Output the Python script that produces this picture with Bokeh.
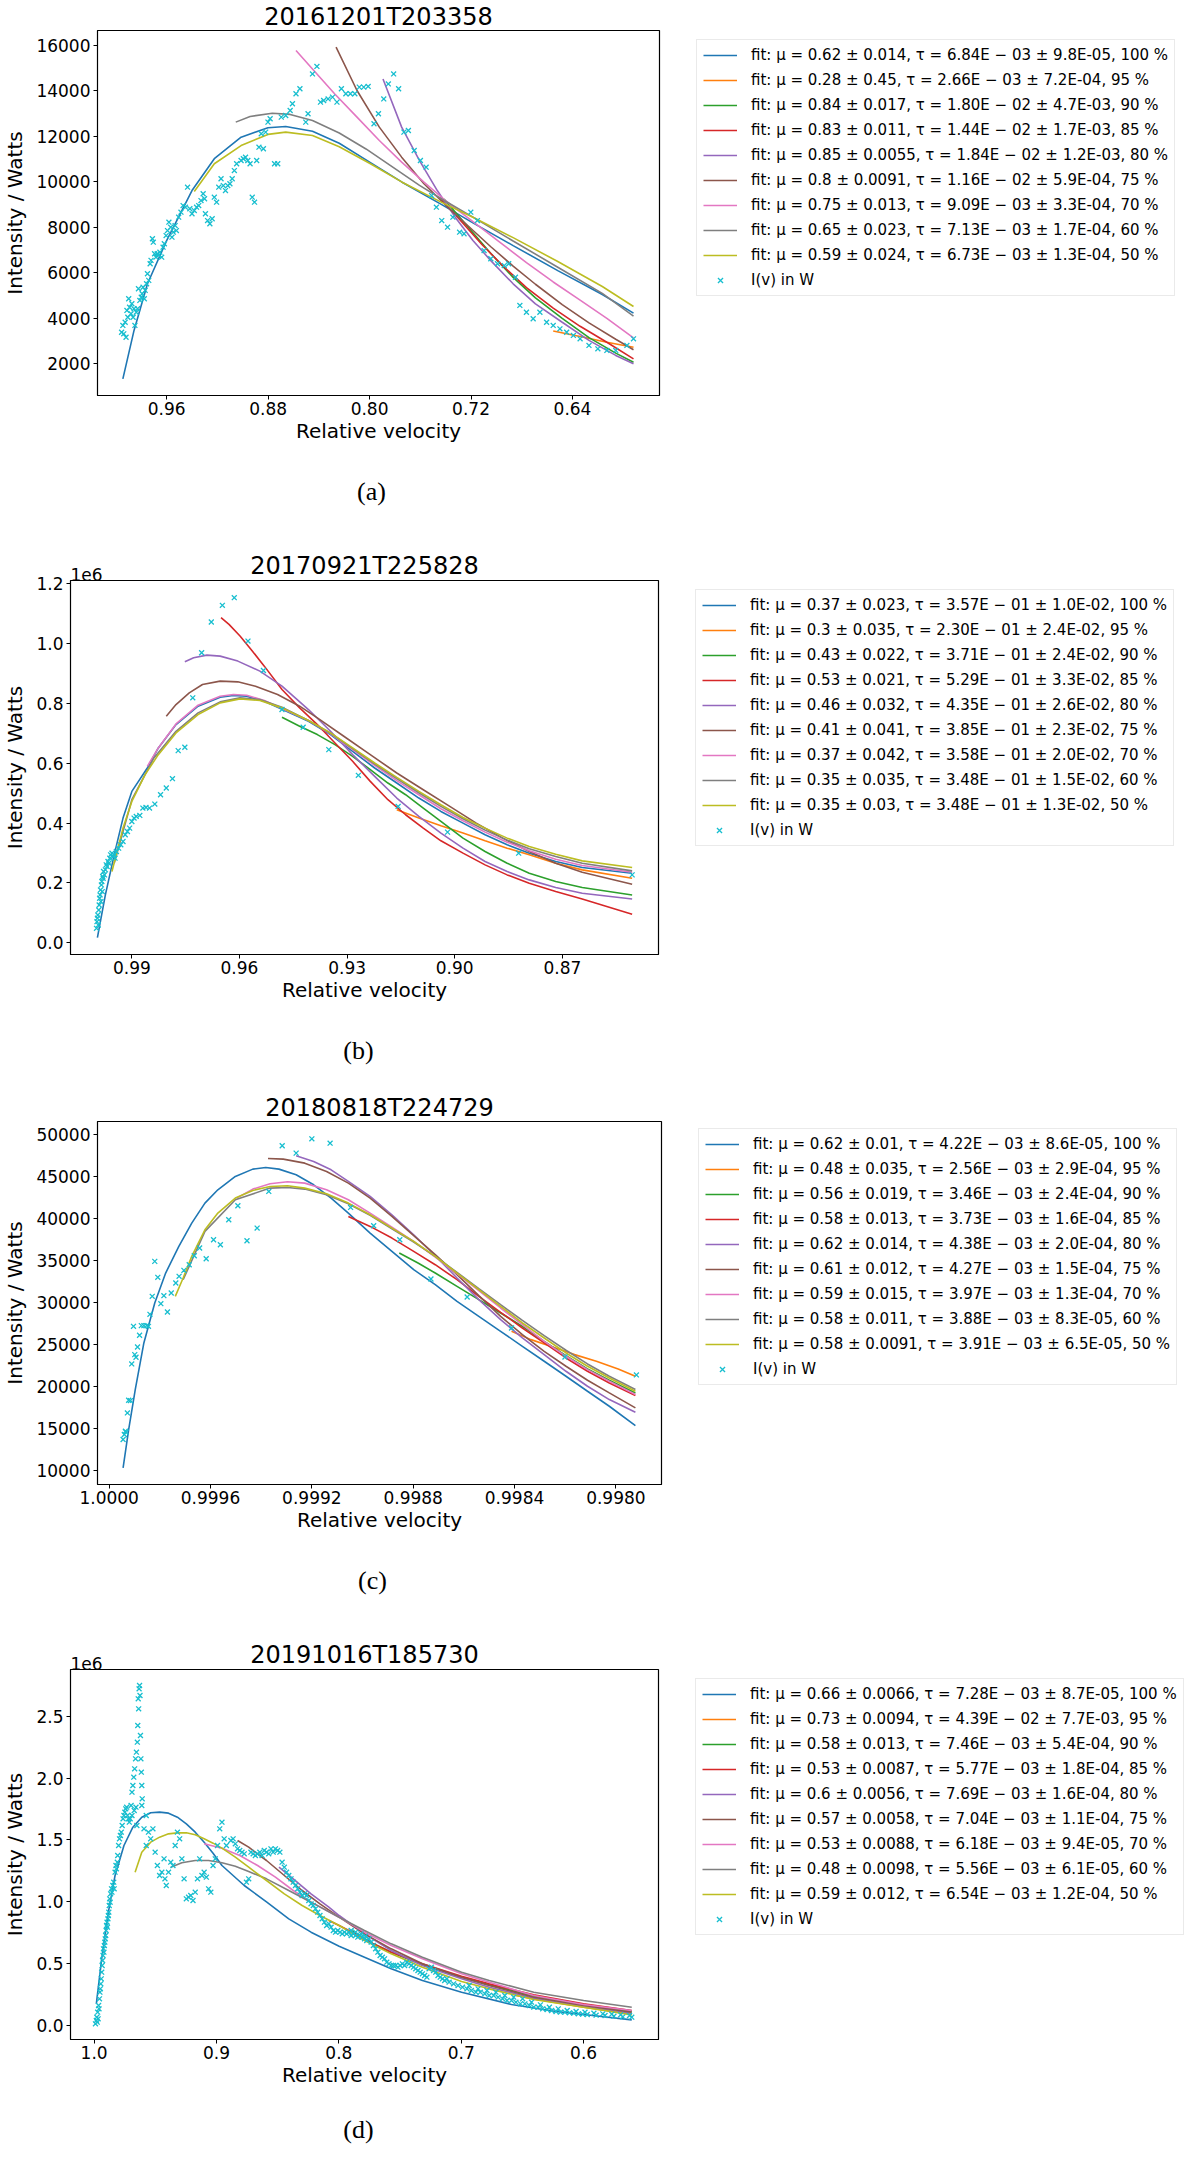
from bokeh.plotting import figure
from bokeh.models import (Range1d, FixedTicker, PrintfTickFormatter, Legend,
                          LegendItem, Label)
from bokeh.layouts import column, row
from bokeh.embed import file_html
from bokeh.resources import INLINE

# ---------------------------------------------------------------- data
FIT_COLORS = ["#1f77b4", "#ff7f0e", "#2ca02c", "#d62728", "#9467bd",
              "#8c564b", "#e377c2", "#7f7f7f", "#bcbd22"]
OBS_COLOR = "#17becf"

# panel (a) : 20161201T203358, intensity in W
a_title = "20161201T203358"
a_labels = [
    "fit: μ = 0.62 ± 0.014, τ = 6.84E − 03 ± 9.8E-05, 100 %",
    "fit: μ = 0.28 ± 0.45, τ = 2.66E − 03 ± 7.2E-04, 95 %",
    "fit: μ = 0.84 ± 0.017, τ = 1.80E − 02 ± 4.7E-03, 90 %",
    "fit: μ = 0.83 ± 0.011, τ = 1.44E − 02 ± 1.7E-03, 85 %",
    "fit: μ = 0.85 ± 0.0055, τ = 1.84E − 02 ± 1.2E-03, 80 %",
    "fit: μ = 0.8 ± 0.0091, τ = 1.16E − 02 ± 5.9E-04, 75 %",
    "fit: μ = 0.75 ± 0.013, τ = 9.09E − 03 ± 3.3E-04, 70 %",
    "fit: μ = 0.65 ± 0.023, τ = 7.13E − 03 ± 1.7E-04, 60 %",
    "fit: μ = 0.59 ± 0.024, τ = 6.73E − 03 ± 1.3E-04, 50 %",
]
a_fit100 = [(0.9945, 1340), (0.9857, 3470), (0.9751, 5520), (0.96, 7420), (0.94, 9620),
            (0.9224, 11020), (0.9013, 11970), (0.8801, 12380), (0.8661, 12440), (0.845, 12230),
            (0.8239, 11700), (0.7993, 10850), (0.7747, 10000), (0.7431, 9000), (0.7185, 8200),
            (0.6868, 7200), (0.6516, 6100), (0.6165, 5050), (0.5919, 4230)]
a_fit95 = [(0.6552, 3440), (0.634, 3200), (0.6129, 2950), (0.5919, 2730)]
a_fit90 = [(0.7413, 9250), (0.722, 8000), (0.7044, 6850), (0.6868, 5800), (0.6692, 4900),
           (0.6481, 4000), (0.627, 3150), (0.6059, 2470), (0.5919, 2070)]
a_fit85 = [(0.7448, 9300), (0.729, 8350), (0.7114, 7250), (0.6938, 6250), (0.6763, 5350),
           (0.6552, 4450), (0.634, 3650), (0.6129, 2950), (0.5919, 2220)]
a_fit80 = [(0.7894, 14530), (0.7747, 12410), (0.7606, 10940), (0.7466, 9620), (0.7325, 8450),
           (0.7185, 7420), (0.7044, 6540), (0.6868, 5520), (0.6692, 4640), (0.6481, 3830),
           (0.627, 3030), (0.6059, 2370), (0.5919, 2000)]
a_fit75 = [(0.8264, 15930), (0.8099, 14020), (0.7923, 12410), (0.7747, 11090), (0.7571, 9920),
           (0.7395, 8950), (0.722, 8050), (0.7044, 7150), (0.6868, 6300), (0.6692, 5500),
           (0.6481, 4600), (0.627, 3800), (0.6059, 3080), (0.5919, 2620)]
a_fit70 = [(0.858, 15780), (0.845, 14970), (0.8274, 13870), (0.8099, 12850), (0.7923, 11820),
           (0.7747, 10870), (0.7571, 9990), (0.7395, 9150), (0.7185, 8250), (0.6974, 7350),
           (0.6763, 6450), (0.6552, 5600), (0.634, 4800), (0.6129, 4000), (0.5919, 3140)]
a_fit60 = [(0.9055, 12630), (0.8942, 12880), (0.8767, 13020), (0.8626, 12970), (0.845, 12700),
           (0.8239, 12150), (0.8028, 11450), (0.7817, 10650), (0.7606, 9850), (0.7431, 9250),
           (0.7185, 8450), (0.6868, 7400), (0.6516, 6250), (0.6165, 5100), (0.5919, 4100)]
a_fit50 = [(0.9382, 9580), (0.9224, 10800), (0.9013, 11600), (0.8801, 12090), (0.8661, 12190),
           (0.845, 12040), (0.8239, 11550), (0.7993, 10800), (0.7747, 10000), (0.7431, 9100),
           (0.7185, 8450), (0.6868, 7550), (0.6516, 6500), (0.6165, 5400), (0.5919, 4520)]
a_obs = [
    (0.9955, 3390), (0.9945, 3690), (0.9938, 3320), (0.9927, 3830), (0.9920, 3170), (0.9913, 4350),
    (0.9906, 4050), (0.9899, 4860), (0.9892, 4490), (0.9881, 4200), (0.9874, 4640), (0.9864, 4050),
    (0.9857, 4420), (0.9850, 3690), (0.9839, 4270), (0.9829, 4420), (0.9822, 5300), (0.9811, 4790),
    (0.9800, 4930), (0.9793, 5080), (0.9786, 5370), (0.9776, 4860), (0.9769, 5230), (0.9758, 5520),
    (0.9751, 5960), (0.9741, 5670), (0.9730, 6400), (0.9723, 6550), (0.9712, 7500), (0.9705, 7350),
    (0.9695, 6840), (0.9684, 6690), (0.9674, 6840), (0.9663, 6770), (0.9653, 6910), (0.9639, 6690),
    (0.9628, 7130), (0.9618, 7280), (0.9604, 7640), (0.9593, 7860), (0.9582, 8230), (0.9568, 8010),
    (0.9558, 7570), (0.9547, 7790), (0.9533, 8080), (0.9523, 7860), (0.9505, 8450), (0.9487, 8670),
    (0.9470, 8960), (0.9452, 8890), (0.9435, 9770), (0.9417, 8820), (0.9400, 8600), (0.9382, 8740),
    (0.9364, 8890), (0.9347, 8960), (0.9329, 9180), (0.9312, 9480), (0.9301, 9260), (0.9294, 8600),
    (0.9277, 8300), (0.9259, 8160), (0.9241, 8380), (0.9224, 9330), (0.9206, 9110), (0.9189, 9770),
    (0.9171, 10140), (0.9153, 9840), (0.9136, 9620), (0.9118, 9840), (0.9101, 9920), (0.9083, 10140),
    (0.9066, 10500), (0.9048, 10800), (0.9013, 10940), (0.8995, 11020), (0.8978, 11090), (0.8960, 10940),
    (0.8942, 10800), (0.8925, 9330), (0.8907, 9110), (0.8890, 10940), (0.8872, 11530), (0.8854, 12120),
    (0.8837, 11460), (0.8819, 12190), (0.8801, 12630), (0.8784, 12780), (0.8749, 10800), (0.8724, 10800),
    (0.8696, 12850), (0.8661, 12920), (0.8626, 13140), (0.8608, 13440), (0.8580, 13880), (0.8549, 14100),
    (0.8503, 12630), (0.8485, 13000), (0.8450, 14750), (0.8415, 15080), (0.8387, 13510), (0.8362, 13580),
    (0.8327, 13650), (0.8292, 13730), (0.8257, 13510), (0.8222, 14100), (0.8187, 13880), (0.8151, 13880),
    (0.8116, 13880), (0.8081, 14170), (0.8046, 14170), (0.8011, 14200), (0.7965, 12560), (0.7930, 13000),
    (0.7888, 13650), (0.7852, 14310), (0.7810, 14750), (0.7771, 14100), (0.7729, 12190), (0.7694, 12260),
    (0.7648, 11380), (0.7599, 10940), (0.7554, 10650), (0.7511, 9400), (0.7473, 8890), (0.7431, 8300),
    (0.7385, 8010), (0.7343, 8450), (0.7290, 7790), (0.7255, 7720), (0.7202, 8670), (0.7150, 8300),
    (0.7097, 6980), (0.7044, 6620), (0.6991, 6400), (0.6938, 6320), (0.6903, 6400), (0.6850, 5810),
    (0.6815, 4570), (0.6763, 4270), (0.6710, 3980), (0.6657, 4270), (0.6604, 3830), (0.6552, 3690),
    (0.6499, 3540), (0.6446, 3390), (0.6393, 3250), (0.6340, 3100), (0.6270, 2810), (0.6200, 2660),
    (0.6129, 2590), (0.6059, 2590), (0.5971, 2810), (0.5919, 3100),
]
a_xticks = [0.96, 0.88, 0.80, 0.72, 0.64]
a_yticks = [2000, 4000, 6000, 8000, 10000, 12000, 14000, 16000]

# panel (b) : 20170921T225828, intensity in 1e6 W
b_title = "20170921T225828"
b_labels = [
    "fit: μ = 0.37 ± 0.023, τ = 3.57E − 01 ± 1.0E-02, 100 %",
    "fit: μ = 0.3 ± 0.035, τ = 2.30E − 01 ± 2.4E-02, 95 %",
    "fit: μ = 0.43 ± 0.022, τ = 3.71E − 01 ± 2.4E-02, 90 %",
    "fit: μ = 0.53 ± 0.021, τ = 5.29E − 01 ± 3.3E-02, 85 %",
    "fit: μ = 0.46 ± 0.032, τ = 4.35E − 01 ± 2.6E-02, 80 %",
    "fit: μ = 0.41 ± 0.041, τ = 3.85E − 01 ± 2.3E-02, 75 %",
    "fit: μ = 0.37 ± 0.042, τ = 3.58E − 01 ± 2.0E-02, 70 %",
    "fit: μ = 0.35 ± 0.035, τ = 3.48E − 01 ± 1.5E-02, 60 %",
    "fit: μ = 0.35 ± 0.03, τ = 3.48E − 01 ± 1.3E-02, 50 %",
]
b_fit100 = [(0.9996, 0.0167), (0.99738, 0.1596), (0.99492, 0.2936), (0.99246, 0.4164), (0.99, 0.5057),
            (0.98569, 0.5838), (0.98262, 0.6508), (0.97769, 0.729), (0.97154, 0.7904), (0.96538, 0.8205),
            (0.96169, 0.8261), (0.958, 0.8239), (0.95308, 0.8071), (0.94692, 0.7736), (0.94077, 0.7401),
            (0.93462, 0.6955), (0.92846, 0.6396), (0.92231, 0.5838), (0.91615, 0.5336), (0.91, 0.4834),
            (0.90385, 0.4387), (0.89769, 0.3996), (0.89154, 0.3606), (0.88538, 0.3271), (0.87923, 0.2992),
            (0.87185, 0.2713), (0.86446, 0.2512), (0.85055, 0.2322)]
b_fit95 = [(0.91615, 0.4443), (0.91, 0.4164), (0.90385, 0.3907), (0.89769, 0.3662), (0.89154, 0.3405),
           (0.88538, 0.3159), (0.87923, 0.2936), (0.87185, 0.2657), (0.86446, 0.2434), (0.85055, 0.2155)]
b_fit90 = [(0.94815, 0.7535), (0.94323, 0.7234), (0.9383, 0.6955), (0.93338, 0.662), (0.92846, 0.6229),
           (0.92354, 0.5783), (0.91862, 0.5336), (0.91369, 0.4945), (0.90877, 0.4499), (0.90385, 0.4052),
           (0.89769, 0.3494), (0.89154, 0.3048), (0.88538, 0.2657), (0.87923, 0.2322), (0.87185, 0.2043),
           (0.86446, 0.1842), (0.85055, 0.1596)]
b_fit85 = [(0.96514, 1.0862), (0.96292, 1.0638), (0.95985, 1.0248), (0.95677, 0.9801), (0.95308, 0.9243),
           (0.94815, 0.8462), (0.94323, 0.7848), (0.9383, 0.729), (0.93338, 0.6676), (0.92846, 0.6062),
           (0.92354, 0.5392), (0.91862, 0.4778), (0.91369, 0.4276), (0.90877, 0.3829), (0.90385, 0.3405),
           (0.89769, 0.2992), (0.89154, 0.2601), (0.88538, 0.2266), (0.87923, 0.1987), (0.87185, 0.1708),
           (0.86446, 0.1462), (0.85055, 0.0949)]
b_fit80 = [(0.97523, 0.9388), (0.97277, 0.9522), (0.96908, 0.9611), (0.96538, 0.9578), (0.96046, 0.9411),
           (0.95431, 0.9076), (0.94815, 0.8573), (0.94077, 0.7792), (0.93462, 0.7066), (0.92846, 0.6285),
           (0.92231, 0.5559), (0.91615, 0.4834), (0.91, 0.422), (0.90385, 0.3662), (0.89769, 0.3159),
           (0.89154, 0.2713), (0.88538, 0.2378), (0.87923, 0.2099), (0.87185, 0.1842), (0.86446, 0.1652),
           (0.85055, 0.1462)]
b_fit75 = [(0.9804, 0.7569), (0.97769, 0.7959), (0.974, 0.835), (0.97031, 0.8629), (0.96538, 0.8741),
           (0.96046, 0.8718), (0.95554, 0.8573), (0.94938, 0.8294), (0.94323, 0.7904), (0.9383, 0.7513),
           (0.93092, 0.6899), (0.92354, 0.6285), (0.91615, 0.5671), (0.90877, 0.5113), (0.90138, 0.4555),
           (0.894, 0.3996), (0.88661, 0.3494), (0.87923, 0.3048), (0.87185, 0.2657), (0.86446, 0.2355),
           (0.85055, 0.1954)]
b_fit70 = [(0.98569, 0.5894), (0.98262, 0.6508), (0.97769, 0.7312), (0.97154, 0.7937), (0.96538, 0.8239),
           (0.96169, 0.8294), (0.958, 0.8272), (0.95308, 0.8093), (0.94692, 0.7758), (0.94077, 0.7424),
           (0.93462, 0.6977), (0.92846, 0.6452), (0.92231, 0.5928), (0.91615, 0.5414), (0.91, 0.4945),
           (0.90385, 0.4476), (0.89769, 0.4075), (0.89154, 0.3695), (0.88538, 0.336), (0.87923, 0.307),
           (0.87185, 0.2791), (0.86446, 0.2579), (0.85055, 0.2355)]
b_fit60 = [(0.99492, 0.2657), (0.99, 0.4778), (0.98385, 0.6173), (0.97769, 0.7066), (0.97154, 0.768),
           (0.96538, 0.8049), (0.95985, 0.8183), (0.95431, 0.8127), (0.94815, 0.787), (0.94077, 0.7424),
           (0.93462, 0.6999), (0.92846, 0.6486), (0.92231, 0.5972), (0.91615, 0.5481), (0.91, 0.5012),
           (0.90385, 0.4555), (0.89769, 0.4142), (0.89154, 0.3762), (0.88538, 0.3427), (0.87923, 0.3137),
           (0.87185, 0.288), (0.86446, 0.2657), (0.85055, 0.24)]
b_fit50 = [(0.99554, 0.2378), (0.99246, 0.3829), (0.99, 0.4722), (0.98631, 0.5615), (0.98262, 0.6285),
           (0.97769, 0.7011), (0.97154, 0.7625), (0.96538, 0.8015), (0.95985, 0.8149), (0.95431, 0.8093),
           (0.94815, 0.7848), (0.94077, 0.7424), (0.93462, 0.7011), (0.92846, 0.6508), (0.92231, 0.6006),
           (0.91615, 0.5526), (0.91, 0.5057), (0.90385, 0.461), (0.89769, 0.4186), (0.89154, 0.3829),
           (0.88538, 0.3494), (0.87923, 0.3215), (0.87185, 0.2958), (0.86446, 0.2735), (0.85055, 0.2512)]
b_obs = [
    (0.99985, 0.048), (0.99972, 0.0703), (0.9996, 0.0815), (0.99948, 0.0927), (0.99935, 0.0592),
    (0.99923, 0.1094), (0.99911, 0.1261), (0.99898, 0.1485), (0.99886, 0.1596), (0.99874, 0.1764),
    (0.99862, 0.1373), (0.99849, 0.1931), (0.99837, 0.2043), (0.99825, 0.1708), (0.99812, 0.221),
    (0.998, 0.2155), (0.99788, 0.2378), (0.99763, 0.2266), (0.99738, 0.2434), (0.99714, 0.2601),
    (0.99689, 0.2545), (0.99665, 0.2713), (0.9964, 0.2657), (0.99615, 0.2824), (0.99591, 0.2936),
    (0.99554, 0.2992), (0.99517, 0.288), (0.99492, 0.2936), (0.99468, 0.2824), (0.99431, 0.3048),
    (0.99369, 0.3159), (0.99308, 0.3271), (0.99246, 0.3382), (0.99185, 0.3606), (0.99123, 0.3717),
    (0.99062, 0.3829), (0.99, 0.4052), (0.98938, 0.4164), (0.98877, 0.422), (0.98778, 0.4253),
    (0.98692, 0.4499), (0.98606, 0.4521), (0.98508, 0.4499), (0.9836, 0.4633), (0.982, 0.4945),
    (0.9804, 0.5169), (0.97868, 0.5481), (0.97708, 0.6419), (0.97523, 0.6531), (0.97302, 0.8183),
    (0.97055, 0.969), (0.96785, 1.0717), (0.96477, 1.1275), (0.96145, 1.1532), (0.95763, 1.008),
    (0.95332, 0.9098), (0.94815, 0.7792), (0.94225, 0.72), (0.9351, 0.6452), (0.92686, 0.5593),
    (0.91578, 0.4555), (0.902, 0.3695), (0.88218, 0.2992), (0.85055, 0.2266),
]
b_xticks = [0.99, 0.96, 0.93, 0.90, 0.87]
b_yticks = [0.0, 0.2, 0.4, 0.6, 0.8, 1.0, 1.2]

# panel (c) : 20180818T224729, intensity in W
c_title = "20180818T224729"
c_labels = [
    "fit: μ = 0.62 ± 0.01, τ = 4.22E − 03 ± 8.6E-05, 100 %",
    "fit: μ = 0.48 ± 0.035, τ = 2.56E − 03 ± 2.9E-04, 95 %",
    "fit: μ = 0.56 ± 0.019, τ = 3.46E − 03 ± 2.4E-04, 90 %",
    "fit: μ = 0.58 ± 0.013, τ = 3.73E − 03 ± 1.6E-04, 85 %",
    "fit: μ = 0.62 ± 0.014, τ = 4.38E − 03 ± 2.0E-04, 80 %",
    "fit: μ = 0.61 ± 0.012, τ = 4.27E − 03 ± 1.5E-04, 75 %",
    "fit: μ = 0.59 ± 0.015, τ = 3.97E − 03 ± 1.3E-04, 70 %",
    "fit: μ = 0.58 ± 0.011, τ = 3.88E − 03 ± 8.3E-05, 60 %",
    "fit: μ = 0.58 ± 0.0091, τ = 3.91E − 03 ± 6.5E-05, 50 %",
]
c_fit100 = [(0.999945, 10356), (0.999923, 14910), (0.999897, 19662), (0.999863, 25206), (0.99982, 29958),
            (0.999777, 33522), (0.999725, 36690), (0.999674, 39462), (0.999622, 41838), (0.999571, 43422),
            (0.999502, 45006), (0.999433, 45878), (0.999382, 46076), (0.99933, 45878), (0.999262, 45204),
            (0.999193, 44016), (0.999124, 42432), (0.999056, 40650), (0.99897, 38274), (0.998884, 36096),
            (0.998798, 33918), (0.998713, 32136), (0.998627, 30156), (0.998541, 28374), (0.998455, 26592),
            (0.998369, 24810), (0.998283, 23028), (0.998197, 21246), (0.998112, 19464), (0.998026, 17682),
            (0.997923, 15386)]
c_fit95 = [(0.998412, 26592), (0.998335, 25602), (0.998249, 24731), (0.998163, 23820), (0.998077, 23028),
           (0.997991, 22118), (0.997923, 21246)]
c_fit90 = [(0.998855, 35898), (0.998781, 34710), (0.998713, 33522), (0.998627, 31938), (0.998541, 30354),
           (0.998455, 28770), (0.998369, 27186), (0.998283, 25404), (0.998197, 23702), (0.998112, 22118),
           (0.998026, 20771), (0.997923, 19266)]
c_fit85 = [(0.999056, 40254), (0.99897, 39066), (0.998884, 37680), (0.998798, 36096), (0.998713, 34512),
           (0.998627, 32730), (0.998541, 30750), (0.998455, 28850), (0.998369, 26988), (0.998283, 25206),
           (0.998197, 23424), (0.998112, 21840), (0.998026, 20454), (0.997923, 18950)]
c_fit80 = [(0.999262, 47462), (0.999193, 46788), (0.999124, 45798), (0.999056, 44412), (0.99897, 42630),
           (0.998884, 40452), (0.998798, 38076), (0.998713, 35582), (0.998627, 32928), (0.998541, 30354),
           (0.998455, 27978), (0.998369, 25800), (0.998283, 23820), (0.998197, 21840), (0.998112, 20058),
           (0.998026, 18474), (0.997923, 16970)]
c_fit75 = [(0.999373, 47145), (0.999313, 47066), (0.999228, 46590), (0.999142, 45600), (0.999056, 44214),
           (0.99897, 42432), (0.998884, 40254), (0.998798, 37958), (0.998713, 35700), (0.998627, 33324),
           (0.998541, 30830), (0.998455, 28374), (0.998369, 26196), (0.998283, 24216), (0.998197, 22434),
           (0.998112, 20771), (0.998026, 19266), (0.997923, 17484)]
c_fit70 = [(0.999497, 42432), (0.999433, 43502), (0.999365, 44135), (0.999296, 44373), (0.999228, 44214),
           (0.999142, 43422), (0.999056, 42234), (0.99897, 40650), (0.998884, 38987), (0.998798, 37284),
           (0.998713, 35423), (0.998627, 33443), (0.998541, 31424), (0.998455, 29364), (0.998369, 27384),
           (0.998283, 25404), (0.998197, 23622), (0.998112, 22038), (0.998026, 20652), (0.997923, 19068)]
c_fit60 = [(0.999708, 32730), (0.999622, 38472), (0.999502, 42234), (0.999365, 43620), (0.999296, 43700),
           (0.999228, 43502), (0.999142, 42828), (0.999056, 41759), (0.99897, 40373), (0.998884, 38789),
           (0.998798, 37205), (0.998713, 35502), (0.998627, 33602), (0.998541, 31661), (0.998455, 29760),
           (0.998369, 27899), (0.998283, 26078), (0.998197, 24335), (0.998112, 22712), (0.998026, 21246),
           (0.997923, 19662)]
c_fit50 = [(0.999739, 30750), (0.999708, 32928), (0.999674, 35502), (0.999622, 38670), (0.999571, 40650),
           (0.999502, 42432), (0.999433, 43343), (0.999365, 43818), (0.999296, 43898), (0.999228, 43620),
           (0.999142, 42947), (0.999056, 41838), (0.99897, 40452), (0.998884, 38868), (0.998798, 37284),
           (0.998713, 35502), (0.998627, 33522), (0.998541, 31542), (0.998455, 29562), (0.998369, 27582),
           (0.998283, 25800), (0.998197, 24018), (0.998112, 22434), (0.998026, 21048), (0.997923, 19464)]
c_obs = [
    (0.999945, 13722), (0.99994, 14316), (0.999936, 14712), (0.999933, 14594), (0.999928, 16890),
    (0.999923, 18395), (0.999916, 18356), (0.999911, 22712), (0.999904, 27186), (0.999899, 23820),
    (0.999894, 23504), (0.999888, 24731), (0.99988, 26117), (0.999873, 27266), (0.999863, 27266),
    (0.999852, 27266), (0.999845, 27186), (0.999839, 28612), (0.99983, 30750), (0.99982, 34908),
    (0.999808, 33008), (0.999796, 29879), (0.999784, 30830), (0.99977, 28890), (0.999755, 31146),
    (0.999737, 32334), (0.999724, 33126), (0.999705, 33839), (0.999684, 34512), (0.999664, 35582),
    (0.999643, 36492), (0.999617, 35225), (0.999588, 37482), (0.999561, 36888), (0.999528, 39858),
    (0.999492, 41522), (0.999456, 37364), (0.999416, 38868), (0.99937, 43224), (0.999317, 48650),
    (0.999262, 47778), (0.9992, 49481), (0.999128, 48966), (0.999047, 41324), (0.998956, 39146),
    (0.998853, 37482), (0.99873, 32810), (0.998587, 30671), (0.998412, 26988), (0.998201, 23543),
    (0.997919, 21405),
]
c_xticks = [1.0, 0.9996, 0.9992, 0.9988, 0.9984, 0.9980]
c_yticks = [10000, 15000, 20000, 25000, 30000, 35000, 40000, 45000, 50000]

# panel (d) : 20191016T185730, intensity in 1e6 W
d_title = "20191016T185730"
d_labels = [
    "fit: μ = 0.66 ± 0.0066, τ = 7.28E − 03 ± 8.7E-05, 100 %",
    "fit: μ = 0.73 ± 0.0094, τ = 4.39E − 02 ± 7.7E-03, 95 %",
    "fit: μ = 0.58 ± 0.013, τ = 7.46E − 03 ± 5.4E-04, 90 %",
    "fit: μ = 0.53 ± 0.0087, τ = 5.77E − 03 ± 1.8E-04, 85 %",
    "fit: μ = 0.6 ± 0.0056, τ = 7.69E − 03 ± 1.6E-04, 80 %",
    "fit: μ = 0.57 ± 0.0058, τ = 7.04E − 03 ± 1.1E-04, 75 %",
    "fit: μ = 0.53 ± 0.0088, τ = 6.18E − 03 ± 9.4E-05, 70 %",
    "fit: μ = 0.48 ± 0.0098, τ = 5.56E − 03 ± 6.1E-05, 60 %",
    "fit: μ = 0.59 ± 0.012, τ = 6.54E − 03 ± 1.2E-04, 50 %",
]
d_fit100 = [(0.99818, 0.1751), (0.99381, 0.5388), (0.98835, 0.9159), (0.98289, 1.2123), (0.97561, 1.4547),
            (0.96833, 1.6029), (0.96105, 1.6837), (0.95377, 1.7188), (0.94649, 1.7241), (0.93921, 1.7161),
            (0.93193, 1.6837), (0.92465, 1.6298), (0.91737, 1.5625), (0.91009, 1.4817), (0.90281, 1.3928),
            (0.89553, 1.2931), (0.87733, 1.1315), (0.85913, 0.9995), (0.84093, 0.8621), (0.82273, 0.7543),
            (0.7998, 0.6412), (0.77905, 0.5523), (0.75721, 0.458), (0.73173, 0.3637), (0.6997, 0.2694),
            (0.65893, 0.1697), (0.62253, 0.1131), (0.6, 0.0889), (0.56065, 0.0458)]
d_fit95 = [(0.65529, 0.2425), (0.64073, 0.2155), (0.6, 0.1482), (0.56065, 0.0943)]
d_fit90 = [(0.78997, 0.7678), (0.77177, 0.66), (0.75721, 0.5927), (0.73173, 0.4903), (0.6997, 0.3906),
           (0.67713, 0.3287), (0.64073, 0.2371), (0.6, 0.167), (0.56065, 0.1131)]
d_fit85 = [(0.80817, 0.8486), (0.7998, 0.8082), (0.78633, 0.7408), (0.77177, 0.66), (0.75721, 0.5927),
           (0.73173, 0.4984), (0.6997, 0.3987), (0.67713, 0.3367), (0.64073, 0.2478), (0.6, 0.1751),
           (0.56065, 0.1212)]
d_fit80 = [(0.84894, 1.2796), (0.83729, 1.1853), (0.82273, 1.0641), (0.80817, 0.9564), (0.7998, 0.889),
           (0.77905, 0.7408), (0.75721, 0.6061), (0.73173, 0.4849), (0.6997, 0.3772), (0.67713, 0.3098),
           (0.64073, 0.2209), (0.6, 0.1536), (0.56065, 0.0997)]
d_fit75 = [(0.88279, 1.4952), (0.87369, 1.4413), (0.85913, 1.3335), (0.84457, 1.2123), (0.83001, 1.091),
           (0.81545, 0.9833), (0.7998, 0.8755), (0.77905, 0.7408), (0.75721, 0.6196), (0.73173, 0.4984),
           (0.6997, 0.3906), (0.67713, 0.3233), (0.64073, 0.229), (0.6, 0.1616), (0.56065, 0.1078)]
d_fit70 = [(0.91009, 1.4682), (0.89553, 1.4332), (0.88097, 1.3739), (0.86641, 1.2931), (0.85185, 1.1988),
           (0.83729, 1.091), (0.82273, 0.9968), (0.7998, 0.8755), (0.77905, 0.7543), (0.75721, 0.6466),
           (0.73173, 0.5388), (0.6997, 0.4176), (0.67713, 0.3502), (0.64073, 0.2425), (0.6, 0.1697),
           (0.56065, 0.1212)]
d_fit60 = [(0.93739, 1.2796), (0.92829, 1.3147), (0.91737, 1.3335), (0.90645, 1.3335), (0.89553, 1.3147),
           (0.88461, 1.2877), (0.87369, 1.2446), (0.85913, 1.1853), (0.84093, 1.091), (0.82273, 0.9968),
           (0.7998, 0.8755), (0.77905, 0.7678), (0.75721, 0.66), (0.73173, 0.5523), (0.6997, 0.431),
           (0.67713, 0.3637), (0.64073, 0.2694), (0.6, 0.202), (0.56065, 0.1482)]
d_fit50 = [(0.96651, 1.2392), (0.96105, 1.4009), (0.95377, 1.4817), (0.94649, 1.5221), (0.93921, 1.549),
           (0.93193, 1.5571), (0.92465, 1.5571), (0.91737, 1.5409), (0.91009, 1.5086), (0.90281, 1.4736),
           (0.89553, 1.4332), (0.88461, 1.3605), (0.87369, 1.2796), (0.85913, 1.1719), (0.84457, 1.0641),
           (0.83001, 0.9698), (0.81545, 0.889), (0.7998, 0.8082), (0.77905, 0.687), (0.75721, 0.5792),
           (0.73173, 0.4714), (0.6997, 0.3556), (0.67713, 0.2963), (0.64073, 0.2101), (0.6, 0.1482),
           (0.56065, 0.0862)]
d_obs = [
    (0.99891, 0.0135), (0.99818, 0.0404), (0.99782, 0.0673), (0.99745, 0.0269), (0.99709, 0.1078),
    (0.99672, 0.0539), (0.99636, 0.1616), (0.996, 0.1347), (0.99563, 0.2155), (0.99527, 0.2694),
    (0.9949, 0.2963), (0.99454, 0.3367), (0.99418, 0.3772), (0.99381, 0.431), (0.99345, 0.4849),
    (0.99308, 0.5253), (0.99272, 0.5657), (0.99236, 0.6196), (0.99199, 0.5927), (0.99163, 0.6466),
    (0.99126, 0.6735), (0.9909, 0.7004), (0.99054, 0.7274), (0.99017, 0.7678), (0.98981, 0.8082),
    (0.98944, 0.8351), (0.98908, 0.7947), (0.98872, 0.8621), (0.98835, 0.889), (0.98799, 0.9159),
    (0.98762, 0.9698), (0.98726, 1.0237), (0.9869, 0.9968), (0.98653, 1.0641), (0.9858, 1.1045),
    (0.98544, 1.0776), (0.98471, 1.1315), (0.98398, 1.1584), (0.98362, 1.1045), (0.98289, 1.2392),
    (0.98216, 1.2931), (0.9818, 1.2662), (0.98107, 1.32), (0.98071, 1.3739), (0.97998, 1.4547),
    (0.97925, 1.5086), (0.97852, 1.5356), (0.9778, 1.5625), (0.97707, 1.6164), (0.97634, 1.6703),
    (0.97561, 1.6972), (0.97488, 1.7241), (0.97416, 1.7511), (0.97343, 1.7645), (0.9727, 1.6972),
    (0.97197, 1.6703), (0.97124, 1.6433), (0.97052, 1.6703), (0.96979, 1.778), (0.96906, 1.8858),
    (0.96906, 1.6972), (0.96833, 1.9397), (0.96724, 1.7376), (0.9676, 2.007), (0.96688, 2.0744),
    (0.96615, 2.1552), (0.96579, 1.7645), (0.96542, 2.2091), (0.96506, 1.6164), (0.96469, 2.2899),
    (0.96433, 2.4246), (0.96396, 2.6401), (0.9636, 2.5593), (0.96324, 2.7209), (0.96287, 2.7478),
    (0.96251, 2.667), (0.96214, 2.3438), (0.96178, 2.1552), (0.96142, 2.0474), (0.96105, 1.9397),
    (0.96069, 1.8319), (0.96105, 1.778), (0.95923, 1.5894), (0.95741, 1.6972), (0.95559, 1.5625),
    (0.95741, 1.4547), (0.95377, 1.5086), (0.95195, 1.5894), (0.95013, 1.4009), (0.94831, 1.2931),
    (0.94649, 1.2123), (0.94467, 1.2392), (0.94285, 1.347), (0.94212, 1.1853), (0.94103, 1.1315),
    (0.93921, 1.2392), (0.93739, 1.32), (0.93557, 1.2931), (0.93375, 1.4547), (0.93193, 1.5625),
    (0.93011, 1.5086), (0.92829, 1.347), (0.92647, 1.1853), (0.92465, 1.0237), (0.92283, 1.0372),
    (0.92101, 1.0506), (0.91919, 1.0102), (0.91737, 1.0776), (0.91555, 1.1853), (0.91373, 1.347),
    (0.91191, 1.2123), (0.91009, 1.2392), (0.90827, 1.1988), (0.90645, 1.1045), (0.90463, 1.0776),
    (0.90281, 1.2931), (0.90099, 1.347), (0.89917, 1.4547), (0.89735, 1.5894), (0.89553, 1.6433),
    (0.89371, 1.5086), (0.89189, 1.4547), (0.88825, 1.4952), (0.88643, 1.5086), (0.88461, 1.4682),
    (0.88279, 1.4278), (0.88097, 1.4143), (0.87915, 1.4009), (0.87733, 1.3874), (0.87551, 1.1584),
    (0.87369, 1.1853), (0.87187, 1.4009), (0.87005, 1.3874), (0.86823, 1.3739), (0.86641, 1.3874),
    (0.86459, 1.4009), (0.86277, 1.3739), (0.86095, 1.4143), (0.85913, 1.4009), (0.85731, 1.3874),
    (0.85549, 1.4278), (0.85367, 1.4009), (0.85185, 1.4278), (0.85003, 1.4143), (0.84821, 1.4009),
    (0.84639, 1.32), (0.84457, 1.2796), (0.84275, 1.2392), (0.84093, 1.2123), (0.83911, 1.1853),
    (0.83729, 1.1584), (0.83547, 1.1315), (0.83365, 1.1045), (0.83183, 1.0776), (0.83001, 1.0506),
    (0.82819, 1.0641), (0.82637, 1.0506), (0.82455, 1.0102), (0.82273, 0.9833), (0.82091, 0.9698),
    (0.81909, 0.9429), (0.81727, 0.9159), (0.81545, 0.889), (0.81363, 0.8621), (0.81181, 0.8351),
    (0.80999, 0.8082), (0.80817, 0.8217), (0.80635, 0.7947), (0.80453, 0.7678), (0.80271, 0.7543),
    (0.80089, 0.7678), (0.79907, 0.7543), (0.79725, 0.7408), (0.79543, 0.7543), (0.79361, 0.7408),
    (0.79179, 0.7543), (0.78997, 0.7274), (0.78997, 0.7678), (0.78815, 0.7408), (0.78633, 0.7274),
    (0.78633, 0.7543), (0.78451, 0.7139), (0.78269, 0.7274), (0.78196, 0.7408), (0.78087, 0.7139),
    (0.77905, 0.7004), (0.7783, 0.722), (0.77723, 0.687), (0.77541, 0.7004), (0.77359, 0.6735),
    (0.77177, 0.6466), (0.76995, 0.6196), (0.76813, 0.5927), (0.76631, 0.5657), (0.76449, 0.5523),
    (0.76267, 0.5388), (0.76085, 0.5119), (0.75903, 0.4984), (0.75721, 0.4849), (0.75539, 0.4849),
    (0.75357, 0.4849), (0.75175, 0.4714), (0.74993, 0.4849), (0.74811, 0.4984), (0.74629, 0.4849),
    (0.74447, 0.5119), (0.74265, 0.4984), (0.74083, 0.4849), (0.73901, 0.4714), (0.73719, 0.458),
    (0.73537, 0.4445), (0.73355, 0.431), (0.73173, 0.4176), (0.72991, 0.4041), (0.72809, 0.3906),
    (0.72627, 0.458), (0.72445, 0.4714), (0.72263, 0.4445), (0.72081, 0.431), (0.71899, 0.4041),
    (0.71717, 0.3906), (0.71535, 0.3772), (0.71353, 0.3637), (0.71171, 0.3772), (0.70989, 0.3502),
    (0.70625, 0.3367), (0.70261, 0.3233), (0.69897, 0.3098), (0.69533, 0.2963), (0.69351, 0.3233),
    (0.69169, 0.2829), (0.68805, 0.2694), (0.68623, 0.2963), (0.68441, 0.2694), (0.68077, 0.2559),
    (0.67895, 0.2829), (0.67713, 0.2425), (0.67349, 0.2425), (0.67167, 0.2694), (0.66985, 0.229),
    (0.66621, 0.2155), (0.66439, 0.2425), (0.66257, 0.202), (0.65893, 0.202), (0.65711, 0.229),
    (0.65529, 0.1886), (0.65165, 0.1751), (0.64983, 0.2155), (0.64801, 0.1751), (0.64437, 0.1616),
    (0.64255, 0.1886), (0.64073, 0.1482), (0.63709, 0.1482), (0.63527, 0.167), (0.63345, 0.1347),
    (0.62981, 0.1293), (0.62799, 0.1482), (0.62617, 0.1212), (0.62253, 0.1131), (0.62071, 0.1347),
    (0.61889, 0.1078), (0.61525, 0.1078), (0.61343, 0.1212), (0.61161, 0.1024), (0.60797, 0.0997),
    (0.60615, 0.1131), (0.60433, 0.0943), (0.60069, 0.0916), (0.59887, 0.1078), (0.59705, 0.0889),
    (0.59159, 0.0997), (0.58977, 0.0835), (0.58431, 0.0943), (0.58249, 0.0808), (0.57703, 0.0916),
    (0.57521, 0.0754), (0.56975, 0.0862), (0.56793, 0.07), (0.56247, 0.0808), (0.56065, 0.0673),
]
d_xticks = [1.0, 0.9, 0.8, 0.7, 0.6]
d_yticks = [0.0, 0.5, 1.0, 1.5, 2.0, 2.5]

# ---------------------------------------------------------------- layout
FONT = "DejaVu Sans"
PAGE_W = 1184
TOP_PLAIN = 29     # title strip inside a figure
TOP_OFFSET = 48    # title strip + offset-text strip ("1e6")
PLOT_BOTTOM = 55   # tick labels + axis label
RIGHT = 8
LEGEND_GAP = 37


def blank_fig(width, height, **kw):
    f = figure(width=width, height=height, x_range=Range1d(0, width),
               y_range=Range1d(0, height), x_axis_type=None, y_axis_type=None,
               output_backend="svg", toolbar_location=None, frame_align=False,
               min_border=0, outline_line_color=None,
               background_fill_color="white", border_fill_color="white", **kw)
    f.grid.visible = False
    return f


def make_panel(title, caption, fits, labels, obs, xr, yr, xticks, yticks, xfmt, yfmt,
               left, frame_w, frame_h, legend_top, foot_h, cap_y, offset_text=None):
    plot_w = left + frame_w + RIGHT
    top = TOP_OFFSET if offset_text else TOP_PLAIN

    p = figure(frame_width=frame_w, frame_height=frame_h,
               x_range=Range1d(*xr), y_range=Range1d(*yr),
               output_backend="svg", toolbar_location=None, frame_align=False,
               min_border_left=left, min_border_right=RIGHT,
               min_border_top=top, min_border_bottom=PLOT_BOTTOM,
               background_fill_color="white", border_fill_color="white")

    if offset_text:
        # "1e6" sits right on top of the box; the title is pulled down beside it
        p.add_layout(Label(x=0, y=0, x_units="screen", y_units="screen",
                           text=offset_text, text_font=FONT, text_font_size="17px",
                           text_align="left", text_baseline="bottom",
                           text_color="black"), "above")
        p.add_layout(Label(x=frame_w / 2, y=0, x_units="screen", y_units="screen",
                           y_offset=2, text=title, text_font=FONT,
                           text_font_size="24px", text_align="center",
                           text_baseline="middle", text_color="black"), "above")
    else:
        p.title.text = title
        p.title.align = "center"
        p.title.text_font = FONT
        p.title.text_font_size = "24px"
        p.title.text_font_style = "normal"
        p.title.text_color = "black"
        p.title.standoff = 0

    p.grid.visible = False
    p.outline_line_color = "black"
    p.outline_line_alpha = 1.0
    p.outline_line_width = 1.2

    for ax in (p.xaxis[0], p.yaxis[0]):
        ax.axis_line_color = "black"
        ax.major_tick_line_color = "black"
        ax.major_tick_in = 0
        ax.major_tick_out = 4
        ax.minor_tick_line_color = None
        ax.major_label_text_font = FONT
        ax.major_label_text_font_size = "17px"
        ax.major_label_text_color = "black"
        ax.axis_label_text_font = FONT
        ax.axis_label_text_font_size = "20px"
        ax.axis_label_text_font_style = "normal"
        ax.axis_label_text_color = "black"

    p.xaxis.ticker = FixedTicker(ticks=xticks)
    p.xaxis.formatter = PrintfTickFormatter(format=xfmt)
    p.xaxis.axis_label = "Relative velocity"
    p.xaxis.major_label_standoff = 2
    p.xaxis.axis_label_standoff = 1

    p.yaxis.ticker = FixedTicker(ticks=yticks)
    p.yaxis.formatter = PrintfTickFormatter(format=yfmt)
    p.yaxis.axis_label = "Intensity / Watts"
    p.yaxis.major_label_standoff = 3
    p.yaxis.axis_label_standoff = 6

    for i, pts in enumerate(fits):
        p.line([q[0] for q in pts], [q[1] for q in pts],
               line_color=FIT_COLORS[i], line_width=1.6)
    p.scatter([q[0] for q in obs], [q[1] for q in obs], marker="x", size=7,
              line_color=OBS_COLOR, line_width=1.3)

    # caption strip, e.g. "(a)"
    foot = blank_fig(plot_w, foot_h)
    foot.add_layout(Label(x=left + frame_w / 2, y=cap_y, text=caption,
                          text_font="Liberation Serif", text_font_size="26px",
                          text_align="center", text_baseline="middle",
                          text_color="black"))

    block_h = top + frame_h + PLOT_BOTTOM + foot_h

    # legend in its own blank figure to the right of the axes; the same series
    # are drawn there with an x range that keeps them out of view
    lf = figure(width=PAGE_W - plot_w, height=block_h,
                x_range=Range1d(10, 11), y_range=Range1d(0, 1),
                x_axis_type=None, y_axis_type=None,
                output_backend="svg", toolbar_location=None, frame_align=False,
                min_border_left=LEGEND_GAP - RIGHT, min_border_right=0,
                min_border_top=top + legend_top, min_border_bottom=0,
                outline_line_color=None, background_fill_color="white",
                border_fill_color="white")
    lf.grid.visible = False
    items = []
    for i, pts in enumerate(fits):
        r = lf.line([q[0] for q in pts], [q[1] for q in pts],
                    line_color=FIT_COLORS[i], line_width=1.6)
        items.append(LegendItem(label=labels[i], renderers=[r]))
    r = lf.scatter([q[0] for q in obs], [q[1] for q in obs], marker="x", size=7,
                   line_color=OBS_COLOR, line_width=1.3)
    items.append(LegendItem(label="I(v) in W", renderers=[r]))
    legend = Legend(items=items, location="top_left", margin=0, padding=6,
                    spacing=7, glyph_width=34, glyph_height=18, label_height=18,
                    label_standoff=14, label_text_font=FONT, label_text_font_size="15px",
                    label_text_color="black", border_line_color="#d6d6d6",
                    border_line_width=1, background_fill_color="white")
    lf.add_layout(legend, "center")

    return row(column(p, foot, spacing=0), lf, spacing=0)


pa = make_panel(a_title, "(a)",
                [a_fit100, a_fit95, a_fit90, a_fit85, a_fit80, a_fit75, a_fit70, a_fit60, a_fit50],
                a_labels, a_obs, (1.0145, 0.5714), (607, 16660), a_xticks, a_yticks,
                "%.2f", "%d", 90, 562, 365, 10, 60, 19)
pb = make_panel(b_title, "(b)",
                [b_fit100, b_fit95, b_fit90, b_fit85, b_fit80, b_fit75, b_fit70, b_fit60, b_fit50],
                b_labels, b_obs, (1.0071, 0.8432), (-0.0395, 1.2105), b_xticks, b_yticks,
                "%.2f", "%.1f", 64, 588, 374, 9, 60, 19, offset_text="1e6")
pc = make_panel(c_title, "(c)",
                [c_fit100, c_fit95, c_fit90, c_fit85, c_fit80, c_fit75, c_fit70, c_fit60, c_fit50],
                c_labels, c_obs, (1.000046, 0.99782), (8376, 51540), c_xticks, c_yticks,
                "%.4f", "%d", 90, 564, 363, 8, 60, 19)
pd_ = make_panel(d_title, "(d)",
                 [d_fit100, d_fit95, d_fit90, d_fit85, d_fit80, d_fit75, d_fit70, d_fit60, d_fit50],
                 d_labels, d_obs, (1.0193, 0.5388), (-0.113, 2.877), d_xticks, d_yticks,
                 "%.1f", "%.1f", 64, 588, 370, 9, 50, 15, offset_text="1e6")

layout = column(pa, pb, pc, pd_, spacing=22)

with open("out.html", "w") as f:
    f.write(file_html(layout, INLINE))
